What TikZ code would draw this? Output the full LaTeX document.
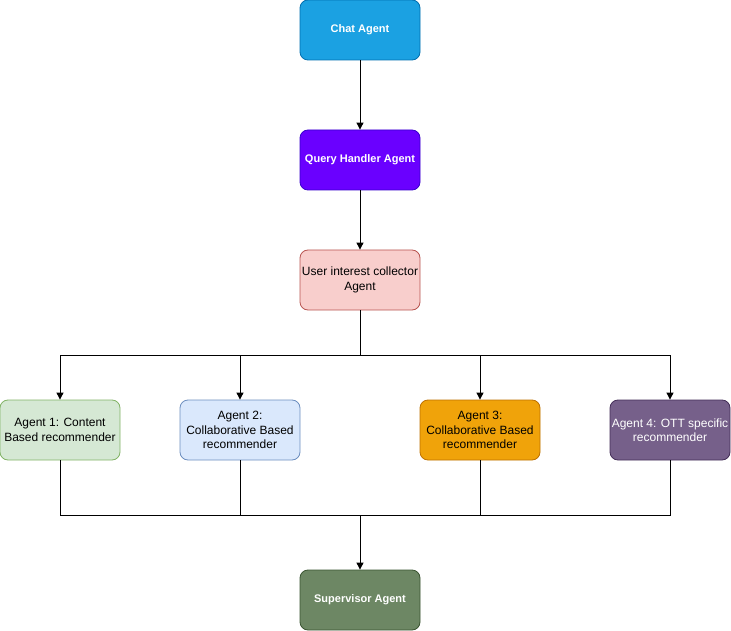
\documentclass[tikz,border=0pt]{standalone}
\usepackage{fontspec}
\setmainfont{Liberation Sans}
\usepackage{tikz}
\usetikzlibrary{arrows.meta, positioning}

\definecolor{chatfill}{HTML}{1BA1E2}\definecolor{chatline}{HTML}{006EAF}
\definecolor{queryfill}{HTML}{6A00FF}\definecolor{queryline}{HTML}{3700CC}
\definecolor{userfill}{HTML}{F8CECC}\definecolor{userline}{HTML}{B85450}
\definecolor{onefill}{HTML}{D5E8D4}\definecolor{oneline}{HTML}{82B366}
\definecolor{twofill}{HTML}{DAE8FC}\definecolor{twoline}{HTML}{6C8EBF}
\definecolor{threefill}{HTML}{F0A30A}\definecolor{threeline}{HTML}{BD7000}
\definecolor{fourfill}{HTML}{76608A}\definecolor{fourline}{HTML}{432D57}
\definecolor{supfill}{HTML}{6D8764}\definecolor{supline}{HTML}{3A5431}

\begin{document}
\begin{tikzpicture}[x=1pt, y=-1pt,
    agent/.style={rectangle, rounded corners=8pt, minimum width=120pt, minimum height=60pt,
        line width=0.8pt, align=center, inner sep=1pt, font=\fontsize{12}{14.5}\selectfont},
    lightagent/.style={agent, text=black},
    darkagent/.style={agent, text=white, font=\fontsize{11}{13.5}\selectfont\bfseries},
    flow/.style={line width=0.9pt, -{Triangle[length=7pt, width=7pt]}},
    link/.style={line width=0.9pt}]
    \useasboundingbox (0,0) rectangle (731,631);

    % top chain
    \node[darkagent, fill=chatfill, draw=chatline] (chat) at (360,30) {Chat Agent};
    \node[darkagent, fill=queryfill, draw=queryline] (query) at (360,160) {Query Handler Agent};
    \node[lightagent, fill=userfill, draw=userline] (user) at (360,280) {User interest collector\\Agent};

    % the four recommenders
    \node[lightagent, fill=onefill, draw=oneline] (one) at (60,430) {Agent 1: Content\\Based recommender};
    \node[lightagent, fill=twofill, draw=twoline] (two) at (240,430) {Agent 2:\\Collaborative Based\\recommender};
    \node[lightagent, fill=threefill, draw=threeline] (three) at (480,430) {Agent 3:\\Collaborative Based\\recommender};
    \node[agent, text=white, fill=fourfill, draw=fourline] (four) at (670,430) {Agent 4: OTT specific\\recommender};

    \node[darkagent, fill=supfill, draw=supline] (sup) at (360,600) {Supervisor Agent};

    \coordinate (split) at (360,355);
    \coordinate (merge) at (360,515);

    \draw[flow] (chat) -- (query);
    \draw[flow] (query) -- (user);
    \draw[link] (user) -- (split);
    \draw[flow] (split) -| (one.north);
    \draw[flow] (split) -| (two.north);
    \draw[flow] (split) -| (three.north);
    \draw[flow] (split) -| (four.north);

    \draw[link] (one.south) |- (merge);
    \draw[link] (two.south) |- (merge);
    \draw[link] (three.south) |- (merge);
    \draw[link] (four.south) |- (merge);
    \draw[flow] (merge) -- (sup);
\end{tikzpicture}
\end{document}
